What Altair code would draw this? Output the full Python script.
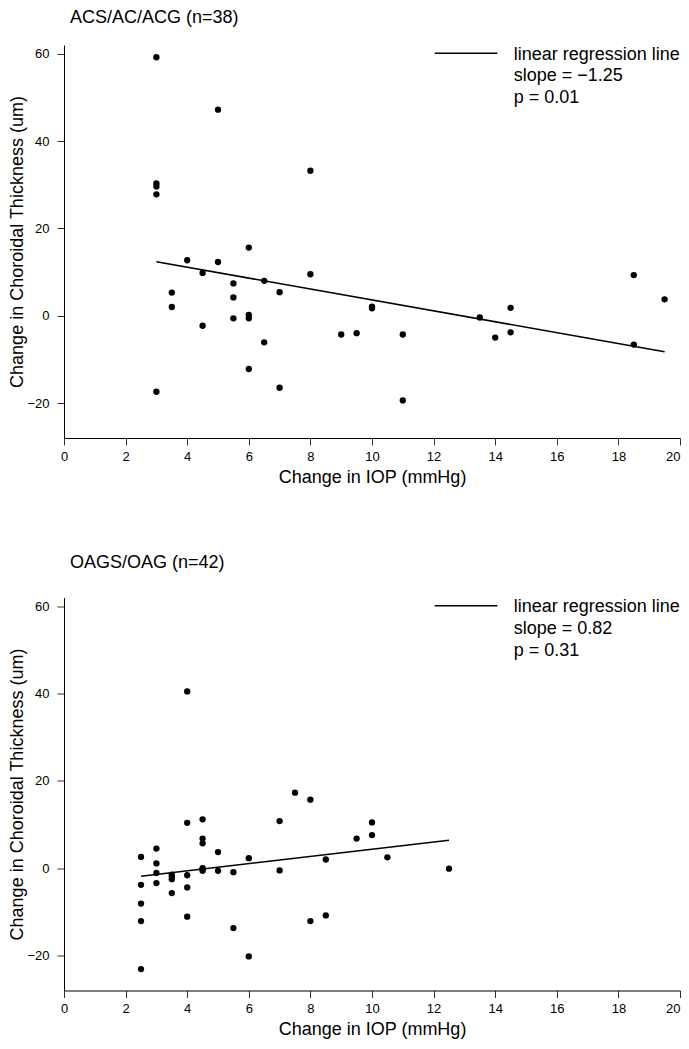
import altair as alt
import pandas as pd

FONT = "Liberation Sans"

# ACS/AC/ACG (n=38)
acs_iop = [3, 3, 3, 3, 3, 3.5, 3.5, 4, 4.5, 4.5, 5, 5, 5.5, 5.5, 5.5, 6, 6, 6, 6,
           6.5, 6.5, 7, 7, 8, 8, 9, 9.5, 10, 10, 11, 11, 13.5, 14, 14.5, 14.5,
           18.5, 18.5, 19.5]
acs_ct = [59.2, 30.3, 29.6, 27.8, -17.4, 5.3, 2.0, 12.7, 9.8, -2.3, 47.2, 12.3,
          7.4, 4.2, -0.6, 15.6, 0.2, -0.6, -12.2, 8.0, -6.1, 5.4, -16.5, 33.2,
          9.5, -4.3, -4.0, 2.1, 1.7, -4.3, -19.4, -0.4, -5.0, 1.8, -3.8, 9.3,
          -6.6, 3.75]

# OAGS/OAG (n=42)
oag_iop = [2.5, 2.5, 2.5, 2.5, 2.5, 3, 3, 3, 3, 3.5, 3.5, 3.5, 3.5, 4, 4, 4, 4, 4,
           4.5, 4.5, 4.5, 4.5, 4.5, 4.5, 5, 5, 5.5, 5.5, 6, 6, 7, 7, 7.5, 8, 8,
           8.5, 8.5, 9.5, 10, 10, 10.5, 12.5]
oag_ct = [2.6, -3.8, -8.1, -12.1, -23.1, 4.5, 1.1, -1.1, -3.4, -1.5, -1.8, -2.5,
          -5.7, 40.5, 10.4, -1.6, -4.4, -11.1, 11.2, 6.8, 5.7, 0.0, -0.2, -0.6,
          3.7, -0.6, -0.9, -13.7, 2.3, -20.2, 10.8, -0.5, 17.3, 15.7, -12.1, 2.0,
          -10.8, 6.8, 10.5, 7.6, 2.5, -0.1]

x_ticks = [0, 2, 4, 6, 8, 10, 12, 14, 16, 18, 20]
y_ticks = [-20, 0, 20, 40, 60]
x_domain = [0, 20]
y_domain = [-28, 62]

titles = ["ACS/AC/ACG (n=38)", "OAGS/OAG (n=42)"]
legend_texts = [
    "linear regression line\nslope = \u22121.25\np = 0.01",
    "linear regression line\nslope = 0.82\np = 0.31",
]

W, H = 616, 393


def panel(xs, ys, title, legend_text, title_offset):
    df = pd.DataFrame({"iop": xs, "ct": ys})
    xenc = alt.X(
        "iop:Q",
        scale=alt.Scale(domain=x_domain, nice=False, zero=False),
        axis=alt.Axis(
            values=x_ticks, title="Change in IOP (mmHg)", labelFlush=False,
            labelAlign=alt.ExprRef(expr="datum.value == 20 ? 'right' : 'center'"),
        ),
    )
    yenc = alt.Y(
        "ct:Q",
        scale=alt.Scale(domain=y_domain, nice=False, zero=False),
        axis=alt.Axis(values=y_ticks, title="Change in Choroidal Thickness (um)",
                      labelFlush=False),
    )
    base = alt.Chart(df)
    pts = base.mark_circle(size=40, color="black", opacity=1).encode(x=xenc, y=yenc)
    reg = (
        base.transform_regression("iop", "ct")
        .mark_line(color="black", strokeWidth=1.6)
        .encode(x=xenc, y=yenc)
    )
    one = pd.DataFrame({"k": [0]})
    leg_rule = alt.Chart(one).mark_rule(color="black", strokeWidth=1.5).encode(
        x=alt.value(370.7), x2=alt.value(433.4), y=alt.value(8.3)
    )
    leg_text = alt.Chart(one).mark_text(
        align="left", baseline="alphabetic", fontSize=18, font=FONT,
        lineBreak="\n", lineHeight=21.7, color="black",
    ).encode(x=alt.value(449.7), y=alt.value(14.8), text=alt.value(legend_text))
    return alt.layer(pts, reg, leg_rule, leg_text).properties(
        width=W,
        height=H,
        title=alt.TitleParams(
            title, anchor="start", frame="group", dx=6, offset=title_offset,
            fontSize=18, fontWeight="normal", font=FONT, color="black",
        ),
    )


top = panel(acs_iop, acs_ct, titles[0], legend_texts[0], 18.3)
bottom = panel(oag_iop, oag_ct, titles[1], legend_texts[1], 25.1)

chart = (
    alt.vconcat(top, bottom, spacing=67.5)
    .properties(padding={"left": 0, "top": 0, "right": 0, "bottom": 0})
    .configure_view(stroke=None)
    .configure_axis(
        domainColor="black", domainWidth=1, tickColor="#333", tickSize=7,
        tickWidth=1, labelColor="black", titleColor="black", labelFont=FONT,
        titleFont=FONT, labelFontSize=13, titleFontSize=18,
        titleFontWeight="normal", grid=False,
    )
    .configure_axisX(labelPadding=5, titlePadding=5)
    .configure_axisY(labelPadding=8, titlePadding=0)
)

chart.save("out.html", embed_options={"renderer": "svg", "actions": False})
